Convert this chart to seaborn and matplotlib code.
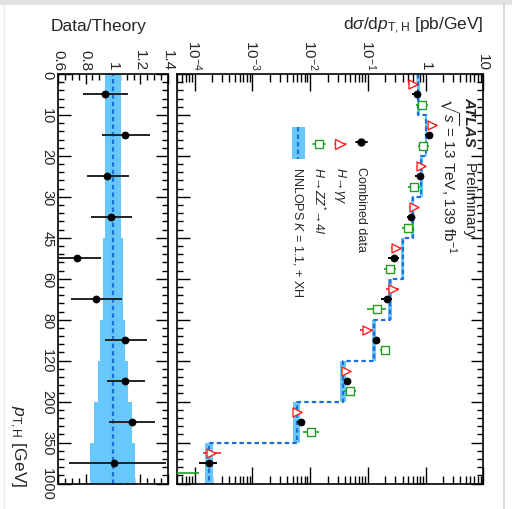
import numpy as np
import pandas as pd
import matplotlib
matplotlib.use("Agg")
import matplotlib.pyplot as plt
import seaborn as sns
from matplotlib.ticker import FixedLocator, FixedFormatter, NullFormatter, LogLocator, MultipleLocator
from matplotlib.patches import Rectangle
from matplotlib.lines import Line2D

# ---------------- data ----------------
pt_edges = ["0", "10", "20", "30", "45", "60", "80", "120", "200", "350", "1000"]
theory = [0.75, 1.02, 0.84, 0.60, 0.40, 0.246, 0.128, 0.0375, 0.0059, 1.8e-4]
theory_rel_lo = [0.94, 0.94, 0.94, 0.94, 0.925, 0.925, 0.905, 0.888, 0.863, 0.832]
theory_rel_hi = [1.056, 1.056, 1.056, 1.056, 1.076, 1.076, 1.088, 1.107, 1.137, 1.161]
comb = [0.71, 1.14, 0.79, 0.56, 0.28, 0.212, 0.14, 0.0435, 0.00706, 1.8e-4]
yy = [0.60, 1.30, 0.84, 0.62, 0.31, 0.27, 0.095, 0.0418, 0.0060, 1.95e-4]
yy_lo = [0.50, 1.09, 0.70, 0.52, 0.25, 0.21, 0.072, 0.036, 0.0051, 1.4e-4]
yy_hi = [0.72, 1.56, 1.01, 0.74, 0.38, 0.34, 0.124, 0.0485, 0.0071, 2.85e-4]
zz = [0.86, 0.92, 0.635, 0.49, 0.243, 0.142, 0.20, 0.0496, 0.0103, 1.0e-5]
zz_lo = [0.68, 0.73, 0.50, 0.39, 0.19, 0.095, 0.164, 0.039, 0.0074, 1.0e-6]
zz_hi = [1.08, 1.16, 0.80, 0.62, 0.31, 0.21, 0.244, 0.0625, 0.0143, 1.2e-4]
ratio = [0.941, 1.088, 0.958, 0.983, 0.739, 0.873, 1.090, 1.090, 1.139, 1.010]
ratio_lo = [0.778, 0.917, 0.808, 0.839, 0.58, 0.693, 0.941, 0.954, 0.973, 0.678]
ratio_hi = [1.107, 1.271, 1.117, 1.137, 0.91, 1.064, 1.246, 1.236, 1.309, 1.385]
log_ticks = [1e-4, 1e-3, 1e-2, 1e-1, 1, 10]
log_labels = [r"$10^{-4}$", r"$10^{-3}$", r"$10^{-2}$", r"$10^{-1}$", "1", "10"]
ratio_ticks = [0.6, 0.8, 1.0, 1.2, 1.4]
ratio_labels = ["0.6", "0.8", "1", "1.2", "1.4"]

# ---------------- style ----------------
sns.set_theme(style="ticks")
plt.rcParams["font.family"] = ["Liberation Sans", "DejaVu Sans"]
plt.rcParams["mathtext.fontset"] = "custom"
plt.rcParams["mathtext.rm"] = "Liberation Sans"
plt.rcParams["mathtext.it"] = "Liberation Sans:italic"
plt.rcParams["mathtext.bf"] = "Liberation Sans:bold"
plt.rcParams["mathtext.fallback"] = "stixsans"

BAND = "#66c8fb"
LINE = "#1f6fd8"
DASH = (0, (2.0, 1.4))

W, H = 512, 510
fig = plt.figure(figsize=(W / 100, H / 100), dpi=100, facecolor="white")

def fx(x):
    return x / W

def fy(y):
    return 1 - y / H

# frame decoration
fig.patches.append(Rectangle((0, fy(6)), 1, 6 / H, transform=fig.transFigure,
                             facecolor="#e2e2e2", edgecolor="none", zorder=0))
fig.add_artist(Line2D([fx(503.5), fx(503.5)], [0, fy(6)], transform=fig.transFigure,
                      color="#d4d4d4", lw=1.2))
fig.add_artist(Line2D([fx(3.5), fx(3.5)], [0, fy(6)], transform=fig.transFigure,
                      color="#ececec", lw=1.0))

top, bot = 75, 484.5
ax_r = fig.add_axes([fx(58.3), fy(bot), (167.7 - 58.3) / W, (bot - top) / H])
ax_m = fig.add_axes([fx(177.3), fy(bot), (483.3 - 177.3) / W, (bot - top) / H])

n = len(theory)
idx = np.arange(n)
centers = idx + 0.5
th = np.array(theory)
rl = np.array(theory_rel_lo)
rh = np.array(theory_rel_hi)

# ---------------- main panel ----------------
for i in range(n):
    ax_m.fill_betweenx([i, i + 1], th[i] * rl[i], th[i] * rh[i], color=BAND, lw=0, zorder=1)
xs = np.repeat(th, 2)
ys = np.column_stack([idx, idx + 1]).ravel()
ax_m.plot(xs, ys, color=LINE, lw=1.6, ls=DASH, zorder=2)

c = np.array(comb)
r = np.array(ratio)
c_lo = c * np.array(ratio_lo) / r
c_hi = c * np.array(ratio_hi) / r
y_ = np.array(yy)
z_ = np.array(zz)

ax_m.errorbar(y_, centers - 0.25, xerr=[y_ - np.array(yy_lo), np.array(yy_hi) - y_],
              fmt="none", ecolor="#ff2020", elinewidth=1.2, zorder=3)
ax_m.errorbar(c, centers, xerr=[c - c_lo, c_hi - c],
              fmt="none", ecolor="black", elinewidth=1.4, zorder=3)
ax_m.errorbar(z_, centers + 0.25, xerr=[z_ - np.array(zz_lo), np.array(zz_hi) - z_],
              fmt="none", ecolor="#22a022", elinewidth=1.2, zorder=3)

df = pd.DataFrame({"yy": y_, "comb": c, "zz": z_, "pos": centers})
sns.scatterplot(data=df, x="yy", y=df["pos"] - 0.25, ax=ax_m, marker=">", s=42,
                facecolors="white", edgecolor="#ff2020", linewidth=1.0, zorder=4)
sns.scatterplot(data=df, x="comb", y="pos", ax=ax_m, marker="o", s=26,
                color="black", edgecolor="black", linewidth=0.5, zorder=5)
sns.scatterplot(data=df, x="zz", y=df["pos"] + 0.25, ax=ax_m, marker="s", s=40,
                facecolors="white", edgecolor="#22a022", linewidth=1.0, zorder=4)

ax_m.set_xscale("log")
ax_m.set_xlim(5e-5, 10)
ax_m.set_ylim(n, 0)
ax_m.set_xlabel("")
ax_m.set_ylabel("")
ax_m.xaxis.set_major_locator(FixedLocator(log_ticks))
ax_m.xaxis.set_major_formatter(FixedFormatter(log_labels))
ax_m.xaxis.set_minor_locator(LogLocator(base=10, subs=np.arange(2, 10), numticks=20))
ax_m.xaxis.set_minor_formatter(NullFormatter())
ax_m.yaxis.set_major_locator(FixedLocator(np.arange(n + 1)))
ax_m.yaxis.set_minor_locator(FixedLocator(np.arange(0, n, 0.2)))
ax_m.yaxis.set_major_formatter(NullFormatter())
ax_m.tick_params(axis="x", which="both", direction="in", top=True, bottom=True,
                 labeltop=True, labelbottom=False, labelrotation=-90, labelsize=11,
                 pad=3, width=1.0, color="black")
ax_m.tick_params(axis="x", which="major", length=12)
ax_m.tick_params(axis="x", which="minor", length=6)
ax_m.tick_params(axis="y", which="both", direction="in", left=True, right=True,
                 labelleft=False, width=1.0, color="black")
ax_m.tick_params(axis="y", which="major", length=9)
ax_m.tick_params(axis="y", which="minor", length=4.5)
for s in ax_m.spines.values():
    s.set_linewidth(1.2)
    s.set_color("black")

# ---------------- ratio panel ----------------
for i in range(n):
    ax_r.fill_betweenx([i, i + 1], rl[i], rh[i], color=BAND, lw=0, zorder=1)
ax_r.axvline(1.0, color=LINE, lw=1.6, ls=DASH, zorder=2)
ax_r.errorbar(r, centers, xerr=[r - np.array(ratio_lo), np.array(ratio_hi) - r],
              fmt="none", ecolor="#222222", elinewidth=1.4, zorder=3)
dfr = pd.DataFrame({"ratio": r, "pos": centers})
sns.scatterplot(data=dfr, x="ratio", y="pos", ax=ax_r, marker="o", s=26,
                color="black", edgecolor="black", linewidth=0.5, zorder=5)
ax_r.set_xlim(0.6, 1.4)
ax_r.set_ylim(n, 0)
ax_r.set_xlabel("")
ax_r.set_ylabel("")
ax_r.xaxis.set_major_locator(FixedLocator(ratio_ticks))
ax_r.xaxis.set_major_formatter(FixedFormatter(ratio_labels))
ax_r.xaxis.set_minor_locator(MultipleLocator(0.05))
ax_r.yaxis.set_major_locator(FixedLocator(np.arange(n + 1)))
ax_r.yaxis.set_major_formatter(FixedFormatter(pt_edges))
ax_r.yaxis.set_minor_locator(FixedLocator(np.arange(0, n, 0.2)))
ax_r.tick_params(axis="x", which="both", direction="in", top=True, bottom=True,
                 labeltop=True, labelbottom=False, labelrotation=-90, labelsize=11,
                 pad=3, width=1.0, color="black")
ax_r.tick_params(axis="x", which="major", length=7)
ax_r.tick_params(axis="x", which="minor", length=4)
ax_r.tick_params(axis="y", which="both", direction="in", left=True, right=True,
                 labelleft=True, labelrotation=-90, labelsize=10.5, pad=3,
                 width=1.0, color="black")
ax_r.tick_params(axis="y", which="major", length=9)
ax_r.tick_params(axis="y", which="minor", length=4.5)
for lab in ax_r.get_yticklabels():
    lab.set_verticalalignment("center")
for s in ax_r.spines.values():
    s.set_linewidth(1.2)
    s.set_color("black")

# ---------------- texts ----------------
fig.text(fx(483.3), fy(26), r"d$\sigma$/d$p_{\mathrm{T,H}}$ [pb/GeV]", ha="right",
         va="center", fontsize=12.5)
fig.text(fx(98.5), fy(26), "Data/Theory", ha="center", va="center", fontsize=12.5)
fig.text(fx(17), fy(487), r"$p_{\mathrm{T,H}}$ [GeV]", rotation=-90, rotation_mode="anchor",
         ha="right", va="center", fontsize=12.5)

# ATLAS label
fig.text(fx(469), fy(97), "ATLAS", rotation=-90, rotation_mode="anchor",
         ha="left", va="center", fontsize=11, fontweight="bold", fontstyle="italic")
fig.text(fx(469), fy(163), "Preliminary", rotation=-90, rotation_mode="anchor",
         ha="left", va="center", fontsize=11)
fig.text(fx(449), fy(97), r"$\sqrt{s}$ = 13 TeV, 139 fb$^{-1}$", rotation=-90,
         rotation_mode="anchor", ha="left", va="center", fontsize=11)

# legend (drawn in figure pixel coordinates)
leg_x = [361, 340, 319, 298]
leg_text_y = 167
leg_labels = ["Combined data", r"$H\!\rightarrow\!\gamma\gamma$",
              r"$H\!\rightarrow\!ZZ^{*}\!\rightarrow\!4l$", r"NNLOPS $K$ = 1.1, + XH"]

# combined marker (horizontal error line through marker)
fig.add_artist(Line2D([fx(355.5), fx(366.5)], [fy(143), fy(143)],
                      transform=fig.transFigure, color="black", lw=1.4))
fig.add_artist(Line2D([fx(leg_x[0])], [fy(143)], transform=fig.transFigure,
                      marker="o", markersize=5, color="black", lw=0))
# gamma gamma marker
fig.add_artist(Line2D([fx(334.5), fx(345.5)], [fy(145), fy(145)],
                      transform=fig.transFigure, color="#ff2020", lw=1.2))
fig.add_artist(Line2D([fx(leg_x[1])], [fy(145)], transform=fig.transFigure,
                      marker=">", markersize=6.5, markerfacecolor="white",
                      markeredgecolor="#ff2020", markeredgewidth=1.0, lw=0))
# ZZ marker
fig.add_artist(Line2D([fx(313), fx(325)], [fy(145), fy(145)],
                      transform=fig.transFigure, color="#22a022", lw=1.2))
fig.add_artist(Line2D([fx(leg_x[2])], [fy(145)], transform=fig.transFigure,
                      marker="s", markersize=6, markerfacecolor="white",
                      markeredgecolor="#22a022", markeredgewidth=1.0, lw=0))
# band
fig.patches.append(Rectangle((fx(291.5), fy(160)), 13 / W, 32 / H, transform=fig.transFigure,
                             facecolor=BAND, edgecolor="none"))
fig.add_artist(Line2D([fx(298), fx(298)], [fy(128), fy(160)], transform=fig.transFigure,
                      color=LINE, lw=1.6, ls=DASH))

for xl, lab in zip(leg_x, leg_labels):
    fig.text(fx(xl), fy(leg_text_y), lab, rotation=-90, rotation_mode="anchor",
             ha="left", va="center", fontsize=9)

fig.savefig("out.png", dpi=100, facecolor="white")
